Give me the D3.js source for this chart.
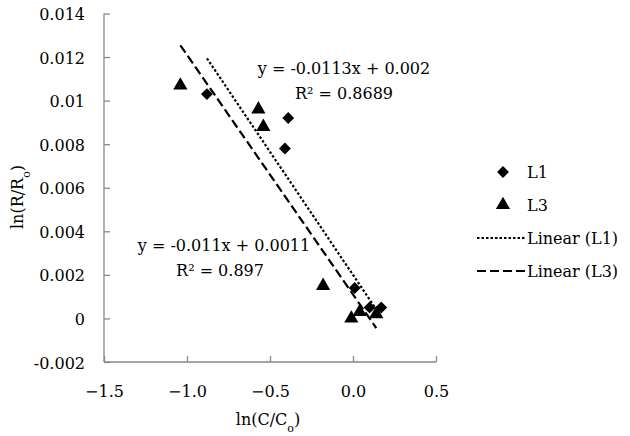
<!DOCTYPE html>
<html><head><meta charset="utf-8">
<script src="https://cdn.jsdelivr.net/npm/d3@7"></script>
<style>body{margin:0;background:#fff}svg text{font-family:"DejaVu Serif",serif !important;fill:#000}</style>
</head><body><svg id="c" width="630" height="436"></svg>
<script>
const xTicks = [-1.5, -1.0, -0.5, 0.0, 0.5];
const yTicks = [-0.002, 0, 0.002, 0.004, 0.006, 0.008, 0.01, 0.012, 0.014];
const yTickLabels = ["-0.002","0","0.002","0.004","0.006","0.008","0.01","0.012","0.014"];
const l1X = [-0.88, -0.39, -0.41, 0.01, 0.10, 0.17];
const l1Y = [0.0103, 0.0092, 0.0078, 0.0014, 0.0005, 0.0005];
const l3X = [-1.04, -0.57, -0.54, -0.18, -0.01, 0.04, 0.14];
const l3Y = [0.0107, 0.0096, 0.0088, 0.0015, 0.0000, 0.0003, 0.0002];
const fits = [
  {name:"Linear (L1)", slope:-0.0113, intercept:0.002, x0:-0.88, x1:0.17, eq:"y = -0.0113x + 0.002", r2:"R² = 0.8689"},
  {name:"Linear (L3)", slope:-0.011, intercept:0.0011, x0:-1.04, x1:0.14, eq:"y = -0.011x + 0.0011", r2:"R² = 0.897"}
];

const FS = 16;
const svg = d3.select("#c");
const x = d3.scaleLinear().domain([-1.5, 0.5]).range([104, 436]);
const y = d3.scaleLinear().domain([-0.002, 0.014]).range([362, 13.5]);
const axisColor = "#888";

function label(parent, tx, ty, str, anchor){
  return parent.append("text").attr("x",tx).attr("y",ty)
    .attr("text-anchor",anchor||"start").style("font-size",FS+"px").text(str);
}

// axes
const xa = svg.append("g").attr("transform","translate(0,362)")
  .call(d3.axisBottom(x).tickValues(xTicks).tickSize(-6).tickFormat(d3.format(".1f")));
const ya = svg.append("g").attr("transform","translate(104,0)")
  .call(d3.axisLeft(y).tickValues(yTicks).tickSize(-6).tickFormat((d,i)=>yTickLabels[i]));
[xa,ya].forEach(a=>{
  a.select(".domain").attr("stroke",axisColor).attr("stroke-width",1.3);
  a.selectAll(".tick line").attr("stroke",axisColor).attr("stroke-width",1.3);
  a.selectAll(".tick text").style("font-size",FS+"px").attr("fill","#000");
});
xa.selectAll(".tick text").attr("dy",null).attr("y",35);
ya.selectAll(".tick text").attr("dy",null).attr("x",-19).attr("y",6);
xa.select(".domain").attr("d","M104,0H436");
ya.select(".domain").attr("d","M0,13.5V362");

// trend lines
const dashes = ["2.5,2", "9,4"];
fits.forEach((f,i)=>{
  svg.append("line")
    .attr("x1", x(f.x0)).attr("y1", y(f.slope*f.x0+f.intercept))
    .attr("x2", x(f.x1)).attr("y2", y(f.slope*f.x1+f.intercept))
    .attr("stroke","#000").attr("stroke-width",2.2).attr("stroke-dasharray",dashes[i]);
});

// markers
const diamond = d3.symbol().type(d3.symbolDiamond2).size(90);
const tri = d3.symbol().type(d3.symbolTriangle).size(88);
svg.append("g").selectAll("path").data(l1X.map((v,i)=>[v,l1Y[i]])).join("path")
  .attr("d", diamond).attr("transform", d=>`translate(${x(d[0])},${y(d[1])})`).attr("fill","#000");
svg.append("g").selectAll("path").data(l3X.map((v,i)=>[v,l3Y[i]])).join("path")
  .attr("d", tri).attr("transform", d=>`translate(${x(d[0])},${y(d[1])})`).attr("fill","#000");

// annotations
const ann = [[344,74,344,99],[224,251,220,276]];
fits.forEach((f,i)=>{
  label(svg, ann[i][0], ann[i][1], f.eq, "middle");
  label(svg, ann[i][2], ann[i][3], f.r2, "middle");
});

// axis titles
const xt = label(svg, 268, 425, "", "middle");
xt.append("tspan").text("ln(C/C");
xt.append("tspan").attr("baseline-shift","sub").style("font-size","11px").text("o");
xt.append("tspan").text(")");
const yt = svg.append("text").attr("transform","translate(23,197) rotate(-90)").attr("text-anchor","middle").style("font-size",FS+"px");
yt.append("tspan").text("ln(R/R");
yt.append("tspan").attr("baseline-shift","sub").style("font-size","11px").text("o");
yt.append("tspan").text(")");

// legend
const leg = svg.append("g");
const ly = [172, 205, 238, 271];
leg.append("path").attr("d",diamond).attr("transform",`translate(503,${ly[0]})`).attr("fill","#000");
leg.append("path").attr("d",tri).attr("transform",`translate(503,${ly[1]})`).attr("fill","#000");
fits.forEach((f,i)=>{
  leg.append("line").attr("x1",477).attr("x2",525).attr("y1",ly[2+i]).attr("y2",ly[2+i])
    .attr("stroke","#000").attr("stroke-width",2.2).attr("stroke-dasharray",dashes[i]);
});
["L1","L3","Linear (L1)","Linear (L3)"].forEach((t,i)=>{
  label(leg, 527, ly[i]+6, t, "start");
});
</script></body></html>
